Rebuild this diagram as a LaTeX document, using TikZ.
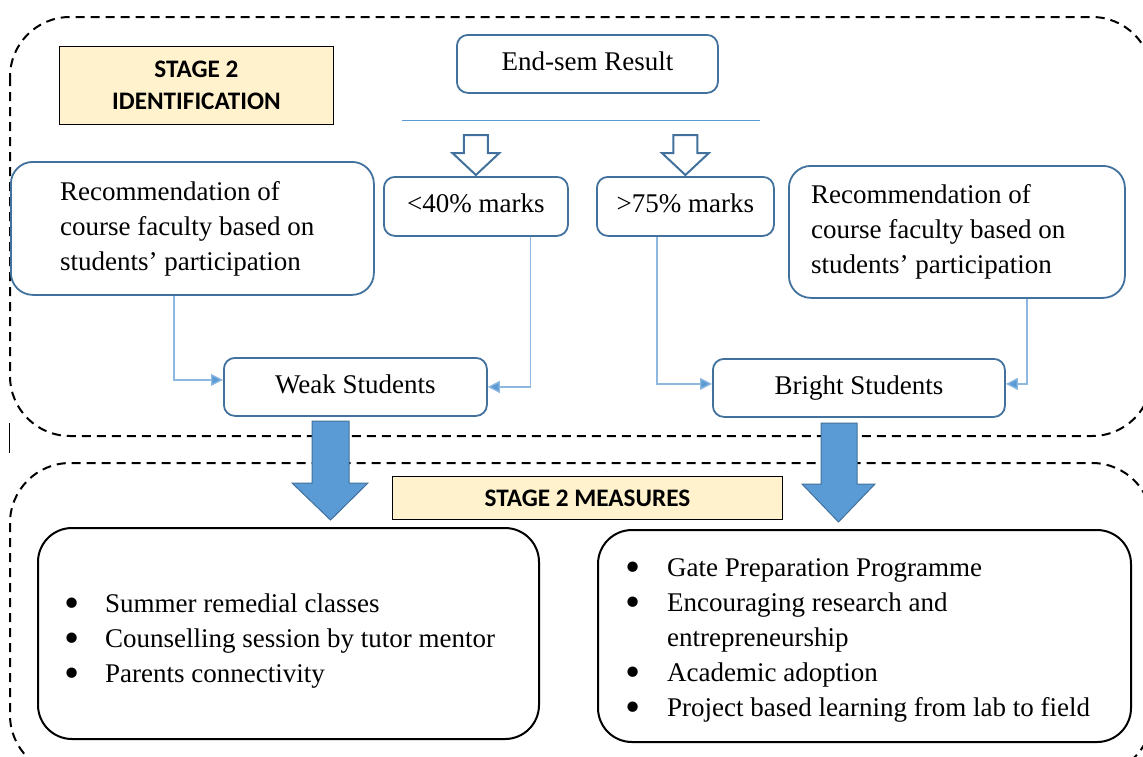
\documentclass[tikz,border=0pt]{standalone}
\usepackage{fontspec}
\setmainfont{Liberation Serif}
\newfontfamily\calib{Carlito}
\usetikzlibrary{calc,arrows.meta}
\definecolor{bord}{HTML}{41719C}
\definecolor{conc}{HTML}{5B9BD5}
\definecolor{lconc}{HTML}{8FB8E0}
\definecolor{stg}{HTML}{FFF2CC}
\newcommand\mybul{\raisebox{-5pt}[0pt][0pt]{\scalebox{1.6}{\textbullet}}}
\begin{document}
\begin{tikzpicture}[x=1pt,y=-1pt,
  rbox/.style={draw=bord, line width=1.8pt, rounded corners=11pt, fill=white, inner sep=0pt, text depth=6pt, font=\fontsize{27}{35}\selectfont},
  bigbox/.style={draw=bord, line width=1.8pt, fill=white, inner sep=0pt, rounded corners=22pt},
  blackbox/.style={draw=black, line width=2pt, rounded corners=34pt, fill=white, inner sep=0pt},
  txt/.style={inner sep=0pt, font=\fontsize{27}{35}\selectfont, align=left},
  stagebox/.style={draw=black, line width=0.9pt, fill=stg, inner sep=0pt, font=\calib\bfseries\fontsize{25.2}{32}\selectfont, align=center},
  dashbox/.style={draw=black, line width=2pt, dash pattern=on 9pt off 6pt, rounded corners=60pt},
  conn/.style={draw=lconc, line width=1.3pt, -{Triangle[length=12pt,width=12pt,fill=conc]}},
  hollow/.style={draw=bord, line width=2pt, fill=white, line join=miter},
  bigarrow/.style={draw=bord, line width=1pt, fill=conc, line join=miter}
]
\useasboundingbox (0,0) rectangle (1143,756);
\clip (0,0) rectangle (1143,756);

% dashed frames
\draw[dashbox] (10,17) rectangle (1152,436);
\draw[dashbox] (10,463) rectangle (1152,775);
\draw[line width=1pt] (9,423) -- (9,453);

% stage 2 identification
\node[stagebox, minimum width=274, minimum height=78, anchor=north west] (stage1) at (59,46) {STAGE 2\\IDENTIFICATION};

% end-sem result
\node[rbox, minimum width=261, minimum height=58, anchor=north west] (endsem) at (456,34) {End-sem Result};
\coordinate (hl) at (402,120);
\coordinate (hr) at (760,120);
\draw[draw=conc, line width=1pt] (hl) -- (hr);

% threshold boxes
\node[rbox, minimum width=184, minimum height=59, anchor=north west] (less) at (383,176) {<40\% marks};
\node[rbox, minimum width=177, minimum height=59, anchor=north west] (more) at (596,176) {>75\% marks};

% hollow arrows
\foreach \n in {less,more}{
  \draw[hollow] ($(\n.north)+(-12,-41)$) -- ($(\n.north)+(12,-41)$) -- ($(\n.north)+(12,-23)$)
    -- ($(\n.north)+(23.5,-23)$) -- ($(\n.north)+(0,-1)$) -- ($(\n.north)+(-23.5,-23)$)
    -- ($(\n.north)+(-12,-23)$) -- cycle;
}

% recommendation boxes
\node[bigbox, minimum width=363, minimum height=133, anchor=north west] (recL) at (10,161) {};
\node[txt, anchor=west] (recLt) at ($(recL.west)+(50,0)$) {\begin{tabular}{@{}l@{}}Recommendation of\\course faculty based on\\students’ participation\end{tabular}};
\node[bigbox, minimum width=336, minimum height=132, anchor=north west] (recR) at (788,165) {};
\node[txt, anchor=west] (recRt) at ($(recR.west)+(23,0)$) {\begin{tabular}{@{}l@{}}Recommendation of\\course faculty based on\\students’ participation\end{tabular}};

% student boxes
\node[rbox, minimum width=263, minimum height=58, anchor=north west] (weak) at (223,357) {Weak Students};
\node[rbox, minimum width=292, minimum height=58, anchor=north west] (bright) at (712,358) {Bright Students};

% connectors
\draw[conn] ($(recL.south west)+(164,0)$) |- ($(weak.west)+(0,-7)$);
\draw[conn] ($(less.south east)+(-38,0)$) |- (weak.east);
\draw[conn] ($(more.south west)+(61,0)$) |- ($(bright.west)+(0,-4)$);
\draw[conn] ($(recR.south west)+(239,0)$) |- ($(bright.east)+(0,-4)$);

% big arrows
\draw[bigarrow] (312,421) -- (349,421) -- (349,483) -- (368,483) -- (330.5,520) -- (292,483) -- (312,483) -- cycle;
\draw[bigarrow] (821,423) -- (857,423) -- (857,484) -- (875,484) -- (838.5,522) -- (802,484) -- (821,484) -- cycle;

% stage 2 measures
\node[stagebox, minimum width=390, minimum height=43, anchor=north west] (stage2) at (392,476) {STAGE 2 MEASURES};

% measure boxes
\node[blackbox, minimum width=501, minimum height=211, anchor=north west] (measL) at (37,527) {};
\node[txt, anchor=west] (measLt) at (64,640) {\begin{tabular}{@{}p{41pt}@{}l@{}}
\mybul & Summer remedial classes\\
\mybul & Counselling session by tutor mentor\\
\mybul & Parents connectivity
\end{tabular}};
\node[blackbox, minimum width=533, minimum height=212, anchor=north west] (measR) at (597,529) {};
\node[txt, anchor=west] (measRt) at (625,639) {\begin{tabular}{@{}p{42pt}@{}l@{}}
\mybul & Gate Preparation Programme\\
\mybul & Encouraging research and\\
 & entrepreneurship\\
\mybul & Academic adoption\\
\mybul & Project based learning from lab to field
\end{tabular}};
\end{tikzpicture}
\end{document}
